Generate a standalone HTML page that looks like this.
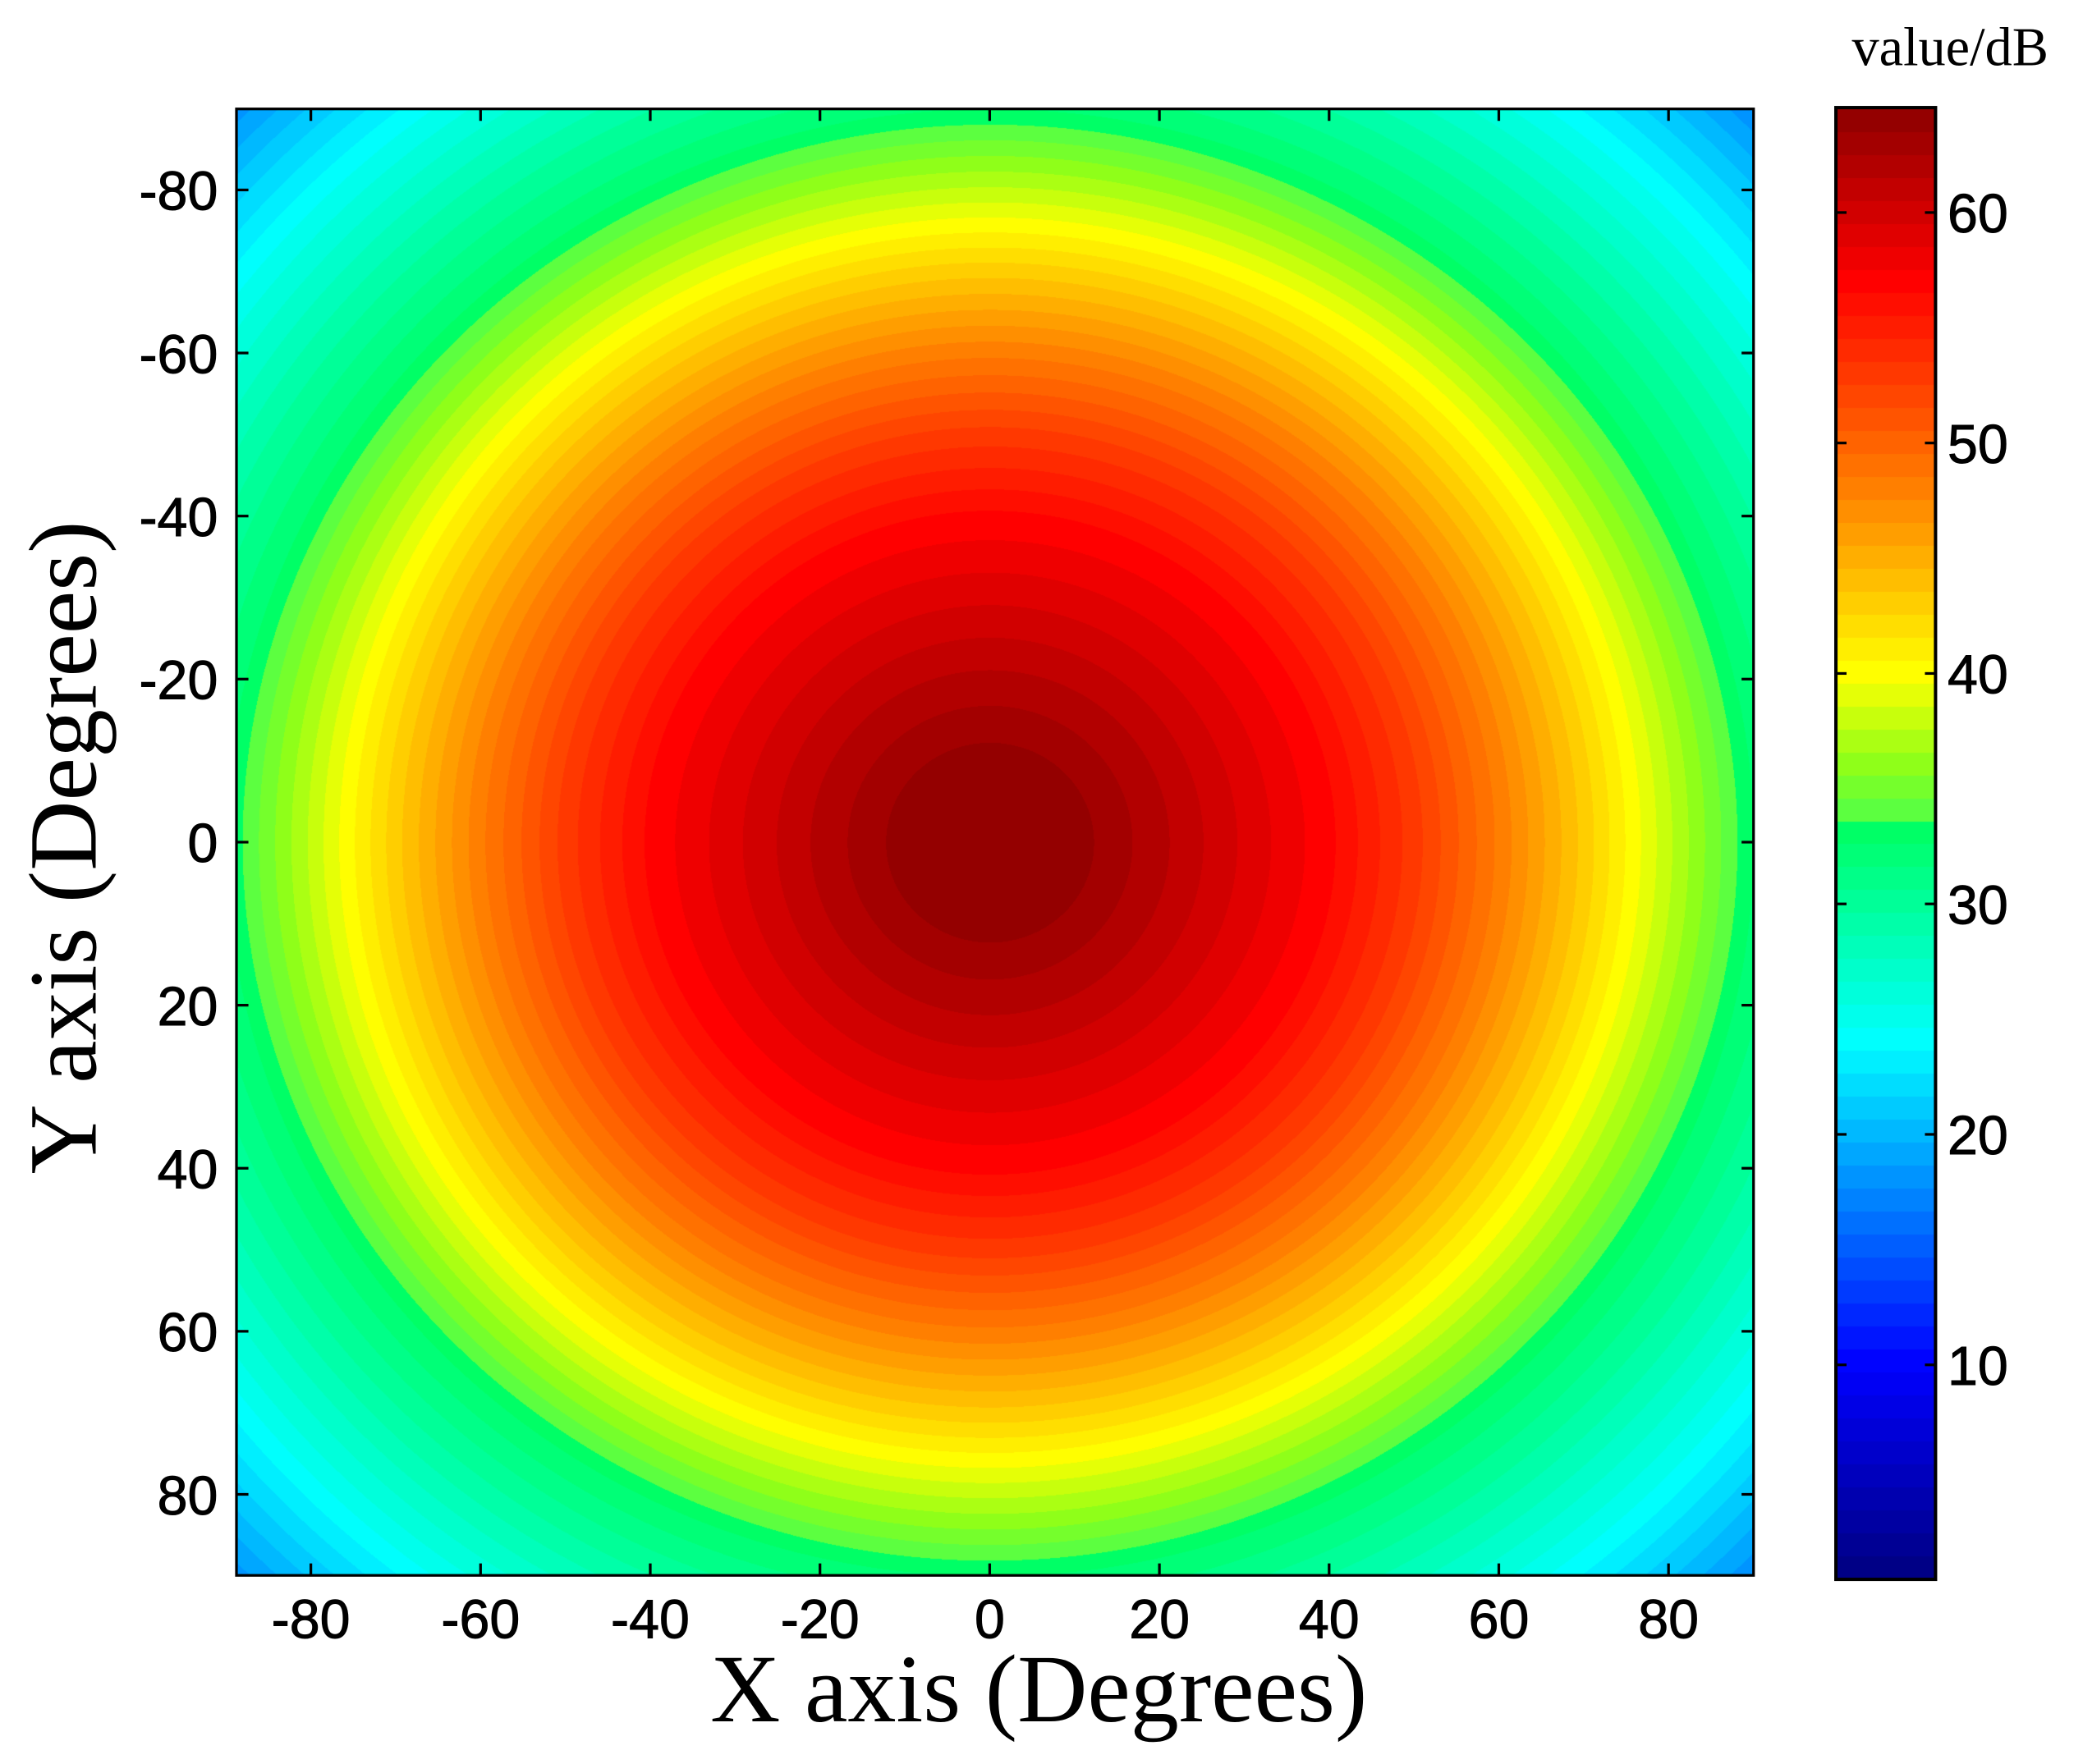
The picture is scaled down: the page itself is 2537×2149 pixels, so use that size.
<!DOCTYPE html>
<html><head><meta charset="utf-8"><style>
html,body{margin:0;padding:0;background:#fff;}
#wrap{position:relative;width:2537px;height:2149px;overflow:hidden;}
canvas{position:absolute;}
svg{position:absolute;left:0;top:0;}
</style></head><body>
<div id="wrap">
<canvas id="heat"></canvas>
<canvas id="cbar"></canvas>
<svg id="svg" width="2537" height="2149" viewBox="0 0 1568 1328" preserveAspectRatio="none"></svg>
</div>
<script>
// radial profile: angular radius (deg) -> level (dB)
const radii = [0, 10, 20, 30, 40, 50, 60, 70, 80, 90, 100, 110, 120, 130];
const levels = [64.5, 64.0, 61.8, 59.3, 56.8, 53, 48.3, 43.2, 37.8, 32.6, 29, 25.2, 21, 16.5];
const xTicks = [-80, -60, -40, -20, 0, 20, 40, 60, 80];
const yTicks = [-80, -60, -40, -20, 0, 20, 40, 60, 80];
const cbTicks = [10, 20, 30, 40, 50, 60];
const cMin = 0.7, cMax = 64.5;

// colormap stops (value, r, g, b)
const cmapStops = [
  [0.7, 0, 0, 0.5], [10, 0, 0, 1], [17, 0, 0.5, 1], [24, 0, 1, 1],
  [33.4, 0, 1, 0.38], [33.5, 0.3, 1, 0.3], [36, 0.55, 1, 0.1], [40, 1, 1, 0],
  [48, 1, 0.5, 0], [57, 1, 0, 0], [64.5, 0.55, 0, 0]
];

const S = 2537 / 1568;
const PL = 178, PR = 1320, PT = 82, PB = 1186;
const xScale = d => 745 + d * 6.3875;
const yScale = d => 634 + d * 6.1375;
const CBL = 1382, CBR = 1457, CBT = 81, CBB = 1189;
const cbScale = v => 160 - (v - 60) * 17.35;

function profile(r) {
  if (r <= radii[0]) return levels[0];
  for (let i = 1; i < radii.length; i++) {
    if (r <= radii[i]) { const t = (r - radii[i-1]) / (radii[i] - radii[i-1]); return levels[i-1] + t * (levels[i] - levels[i-1]); }
  }
  return levels[levels.length - 1];
}
function cmap(v) {
  if (v <= cmapStops[0][0]) v = cmapStops[0][0];
  for (let i = 1; i < cmapStops.length; i++) {
    const a = cmapStops[i-1], b = cmapStops[i];
    if (v <= b[0] || i === cmapStops.length - 1) {
      const t = Math.max(0, Math.min(1, (v - a[0]) / (b[0] - a[0])));
      return [1, 2, 3].map(k => Math.round((a[k] + t * (b[k] - a[k])) * 255));
    }
  }
}
function colorFor(v) {
  const step = (cMax - cMin) / 64;
  const q = cMin + (Math.floor((v - cMin) / step) + 0.5) * step;
  return cmap(q);
}

const hc = document.getElementById('heat');
const hw = Math.round((PR - PL) * S), hh = Math.round((PB - PT) * S);
hc.width = hw; hc.height = hh; hc.style.left = (PL * S) + 'px'; hc.style.top = (PT * S) + 'px';
const hx = hc.getContext('2d'); const img = hx.createImageData(hw, hh);
for (let j = 0; j < hh; j++) {
  const yd = (PT + j / S - 634) / 6.1375;
  for (let i = 0; i < hw; i++) {
    const xd = (PL + i / S - 745) / 6.3875;
    const c = colorFor(profile(Math.hypot(xd, yd)));
    const k = (j * hw + i) * 4; img.data[k] = c[0]; img.data[k+1] = c[1]; img.data[k+2] = c[2]; img.data[k+3] = 255;
  }
}
hx.putImageData(img, 0, 0);

const cc = document.getElementById('cbar');
const cw = Math.round((CBR - CBL) * S), ch = Math.round((CBB - CBT) * S);
cc.width = cw; cc.height = ch; cc.style.left = (CBL * S) + 'px'; cc.style.top = (CBT * S) + 'px';
const cx = cc.getContext('2d');
for (let j = 0; j < ch; j++) {
  const v = 60 - ((CBT + j / S) - 160) / 17.35;
  const c = colorFor(v); cx.fillStyle = `rgb(${c[0]},${c[1]},${c[2]})`; cx.fillRect(0, j, cw, 1);
}

const svg = document.getElementById('svg');
const NS = 'http://www.w3.org/2000/svg';
function el(tag, attrs, txt) { const e = document.createElementNS(NS, tag); for (const k in attrs) e.setAttribute(k, attrs[k]); if (txt !== undefined) e.textContent = txt; svg.appendChild(e); return e; }
const tickFont = {'font-family': 'Liberation Sans, sans-serif', 'font-size': 41, fill: '#000', stroke: '#000', 'stroke-width': 0.6};

let e = el('rect', {x: PL, y: PT, width: PR - PL, height: PB - PT, fill: 'none', stroke: '#000', 'stroke-width': 2});
 
xTicks.forEach(t => {
  const x = xScale(t);
  e = el('line', {x1: x, x2: x, y1: PB, y2: PB - 9, stroke: '#000', 'stroke-width': 2});
   
  e = el('line', {x1: x, x2: x, y1: PT, y2: PT + 9, stroke: '#000', 'stroke-width': 2});
   
  e = el('text', Object.assign({x: x, y: 1233, 'text-anchor': 'middle'}, tickFont), String(t));
   
});
yTicks.forEach(t => {
  const y = yScale(t);
  e = el('line', {x1: PL, x2: PL + 9, y1: y, y2: y, stroke: '#000', 'stroke-width': 2});
   
  e = el('line', {x1: PR, x2: PR - 9, y1: y, y2: y, stroke: '#000', 'stroke-width': 2});
   
  e = el('text', Object.assign({x: 164, y: y + 15, 'text-anchor': 'end'}, tickFont), String(t));
   
});
e = el('text', {x: 782, y: 1296, 'text-anchor': 'middle', 'font-family': 'Liberation Serif, serif', 'font-size': 73, fill: '#000'}, 'X axis (Degrees)');
 
e = el('text', {x: 0, y: 0, 'text-anchor': 'middle', 'font-family': 'Liberation Serif, serif', 'font-size': 73, fill: '#000', transform: 'translate(72,638) rotate(-90)'}, 'Y axis (Degrees)');
 

e = el('rect', {x: CBL, y: CBT, width: CBR - CBL, height: CBB - CBT, fill: 'none', stroke: '#000', 'stroke-width': 2.5});
 
cbTicks.forEach(t => {
  const y = cbScale(t);
  e = el('line', {x1: CBL, x2: CBL + 8, y1: y, y2: y, stroke: '#000', 'stroke-width': 2});
   
  e = el('line', {x1: CBR, x2: CBR - 8, y1: y, y2: y, stroke: '#000', 'stroke-width': 2});
   
  e = el('text', Object.assign({x: 1466, y: y + 15}, tickFont), String(t));
   
});
e = el('text', {x: 1468, y: 49, 'text-anchor': 'middle', 'font-family': 'Liberation Serif, serif', 'font-size': 41, fill: '#000'}, 'value/dB');
 
</script>
</body></html>
